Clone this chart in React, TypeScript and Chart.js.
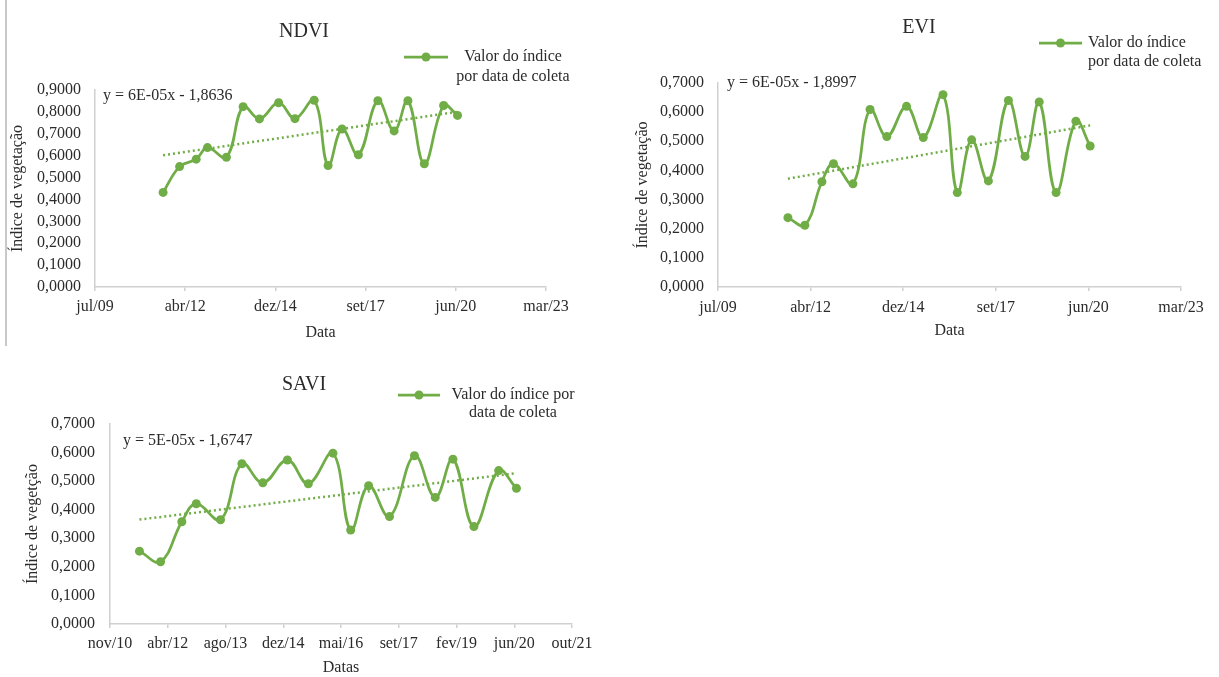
import React, { useEffect, useRef } from "react";
import { Chart, registerables } from "chart.js";

Chart.register(...registerables);

// Excel date serials of the collection dates (shared by the three indices)
const collectionDates = [
  40755, 40938, 41122, 41247, 41457, 41642, 41823, 42036, 42217, 42430,
  42584, 42739, 42920, 43136, 43316, 43469, 43651, 43865, 44019,
];

const ndviValues = [
  0.432, 0.55, 0.584, 0.637, 0.593, 0.824, 0.768, 0.842, 0.769, 0.853,
  0.555, 0.722, 0.604, 0.851, 0.713, 0.851, 0.563, 0.829, 0.784,
];
const eviValues = [
  0.238, 0.212, 0.361, 0.423, 0.354, 0.609, 0.516, 0.62, 0.513, 0.66,
  0.324, 0.505, 0.364, 0.64, 0.448, 0.635, 0.324, 0.569, 0.484,
];
const saviValues = [
  0.255, 0.218, 0.358, 0.421, 0.365, 0.561, 0.494, 0.574, 0.491, 0.598,
  0.329, 0.484, 0.376, 0.589, 0.443, 0.577, 0.341, 0.537, 0.475,
];

const mainTickValues = [40000, 41000, 42000, 43000, 44000, 45000];
const mainTickLabels = ["jul/09", "abr/12", "dez/14", "set/17", "jun/20", "mar/23"];
const saviTickValues = [40500, 41000, 41500, 42000, 42500, 43000, 43500, 44000, 44500];
const saviTickLabels = ["nov/10", "abr/12", "ago/13", "dez/14", "mai/16", "set/17", "fev/19", "jun/20", "out/21"];

const ndviEquation = "y = 6E-05x - 1,8636";
const eviEquation = "y = 6E-05x - 1,8997";
const saviEquation = "y = 5E-05x - 1,6747";

const legendTwoLines = ["Valor do índice", "por data de coleta"];
const legendSaviLines = ["Valor do índice por", "data de coleta"];

const GREEN = "#70AD47";
const TEXT = "#2b2b2b";
const AXIS = "#d0d0d0";
const FONT = '"Liberation Serif", "Times New Roman", serif';

type Panel = {
  title: string;
  values: number[];
  yMax: number;
  tickValues: number[];
  tickLabels: string[];
  equation: string;
  legendLines: string[];
  xTitle: string;
  yTitle: string;
  box: { left: number; top: number; width: number; height: number };
  pad: { left: number; right: number; top: number; bottom: number };
  yWidth: number;
  xHeight: number;
  yTickPad: number;
  xTickPad: number;
  titlePos: [number, number];
  eqPos: [number, number];
  legend: { x1: number; x2: number; y: number; textX: number; align: "left" | "center"; gap: number };
};

const panels: Panel[] = [
  {
    title: "NDVI",
    values: ndviValues,
    yMax: 0.9,
    tickValues: mainTickValues,
    tickLabels: mainTickLabels,
    equation: ndviEquation,
    legendLines: legendTwoLines,
    xTitle: "Data",
    yTitle: "Índice de vegetação",
    box: { left: 0, top: 0, width: 600, height: 345 },
    pad: { left: 8, right: 54, top: 90, bottom: 3 },
    yWidth: 87,
    xHeight: 55,
    yTickPad: 14,
    xTickPad: 6,
    titlePos: [304, 32],
    eqPos: [103, 96],
    legend: { x1: 404, x2: 448, y: 57, textX: 513, align: "center", gap: 20 },
  },
  {
    title: "EVI",
    values: eviValues,
    yMax: 0.7,
    tickValues: mainTickValues,
    tickLabels: mainTickLabels,
    equation: eviEquation,
    legendLines: legendTwoLines,
    xTitle: "Data",
    yTitle: "Índice de vegetação",
    box: { left: 610, top: 0, width: 609, height: 345 },
    pad: { left: 23, right: 38, top: 83, bottom: 5 },
    yWidth: 85,
    xHeight: 53,
    yTickPad: 14,
    xTickPad: 7,
    titlePos: [309, 28],
    eqPos: [117, 83],
    legend: { x1: 429, x2: 472, y: 43, textX: 478, align: "left", gap: 19 },
  },
  {
    title: "SAVI",
    values: saviValues,
    yMax: 0.7,
    tickValues: saviTickValues,
    tickLabels: saviTickLabels,
    equation: saviEquation,
    legendLines: legendSaviLines,
    xTitle: "Datas",
    yTitle: "Índice de vegetção",
    box: { left: 0, top: 360, width: 600, height: 317 },
    pad: { left: 23, right: 28, top: 64, bottom: 0 },
    yWidth: 87,
    xHeight: 53,
    yTickPad: 15,
    xTickPad: 6,
    titlePos: [304, 25],
    eqPos: [123, 81],
    legend: { x1: 398, x2: 440, y: 35, textX: 513, align: "center", gap: 18 },
  },
];

function linearFit(xs: number[], ys: number[]) {
  const n = xs.length;
  const mx = xs.reduce((a, b) => a + b, 0) / n;
  const my = ys.reduce((a, b) => a + b, 0) / n;
  let sxy = 0;
  let sxx = 0;
  for (let i = 0; i < n; i++) {
    sxy += (xs[i] - mx) * (ys[i] - my);
    sxx += (xs[i] - mx) * (xs[i] - mx);
  }
  const slope = sxy / sxx;
  return { slope, intercept: my - slope * mx };
}

const overlayPlugin = {
  id: "panelOverlay",
  afterDraw(chart: any, _args: any, opts: any) {
    const p: Panel = opts.panel;
    if (!p) return;
    const ctx = chart.ctx as CanvasRenderingContext2D;
    ctx.save();
    ctx.fillStyle = TEXT;
    ctx.textBaseline = "middle";
    // title
    ctx.font = `20px ${FONT}`;
    ctx.textAlign = "center";
    ctx.fillText(p.title, p.titlePos[0], p.titlePos[1]);
    // equation
    ctx.font = `16px ${FONT}`;
    ctx.textAlign = "left";
    ctx.fillText(p.equation, p.eqPos[0], p.eqPos[1]);
    // legend
    const L = p.legend;
    ctx.strokeStyle = GREEN;
    ctx.lineWidth = 2.75;
    ctx.beginPath();
    ctx.moveTo(L.x1, L.y);
    ctx.lineTo(L.x2, L.y);
    ctx.stroke();
    ctx.fillStyle = GREEN;
    ctx.beginPath();
    ctx.arc((L.x1 + L.x2) / 2, L.y, 4.5, 0, Math.PI * 2);
    ctx.fill();
    ctx.fillStyle = TEXT;
    ctx.textAlign = L.align;
    p.legendLines.forEach((line, i) => {
      ctx.fillText(line, L.textX, L.y + i * L.gap);
    });
    ctx.restore();
  },
};

function ChartPanel({ panel }: { panel: Panel }) {
  const ref = useRef<HTMLCanvasElement | null>(null);
  useEffect(() => {
    if (!ref.current) return;
    const fit = linearFit(collectionDates, panel.values);
    const x0 = collectionDates[0];
    const x1 = collectionDates[collectionDates.length - 1];
    const font = { family: FONT, size: 16 };
    const chart = new Chart(ref.current, {
      type: "line",
      data: {
        datasets: [
          {
            label: "Valor do índice por data de coleta",
            data: collectionDates.map((d, i) => ({ x: d, y: panel.values[i] })),
            borderColor: GREEN,
            backgroundColor: GREEN,
            borderWidth: 2.75,
            pointRadius: 4.5,
            pointBorderWidth: 0,
            pointBackgroundColor: GREEN,
            tension: 0.4,
            order: 1,
          },
          {
            label: "Linear",
            data: [
              { x: x0, y: fit.slope * x0 + fit.intercept },
              { x: x1, y: fit.slope * x1 + fit.intercept },
            ],
            borderColor: GREEN,
            borderWidth: 2.5,
            borderDash: [2, 3],
            pointRadius: 0,
            tension: 0,
            order: 0,
          },
        ],
      },
      options: {
        animation: false,
        responsive: false,
        maintainAspectRatio: false,
        layout: { padding: panel.pad },
        plugins: {
          legend: { display: false },
          tooltip: { enabled: false },
          title: { display: false },
          panelOverlay: { panel },
        } as any,
        scales: {
          x: {
            type: "linear",
            min: panel.tickValues[0],
            max: panel.tickValues[panel.tickValues.length - 1],
            afterBuildTicks: (s: any) => {
              s.ticks = panel.tickValues.map((v) => ({ value: v }));
            },
            afterFit: (s: any) => {
              s.height = panel.xHeight;
            },
            ticks: {
              autoSkip: false,
              maxRotation: 0,
              padding: panel.xTickPad,
              color: TEXT,
              font,
              callback: (v: any) => {
                const i = panel.tickValues.indexOf(Number(v));
                return i >= 0 ? panel.tickLabels[i] : "";
              },
            },
            grid: {
              display: true,
              drawOnChartArea: false,
              drawTicks: true,
              tickLength: 4,
              color: AXIS,
              lineWidth: 1.5,
            },
            border: { display: true, color: AXIS, width: 1.5 },
            title: {
              display: true,
              text: panel.xTitle,
              color: TEXT,
              font,
              padding: { top: 0, bottom: 0 },
            },
          },
          y: {
            min: 0,
            max: panel.yMax,
            afterFit: (s: any) => {
              s.width = panel.yWidth;
            },
            ticks: {
              stepSize: 0.1,
              autoSkip: false,
              padding: panel.yTickPad,
              color: TEXT,
              font,
              callback: (v: any) => Number(v).toFixed(4).replace(".", ","),
            },
            grid: { display: false, drawTicks: false },
            border: { display: true, color: AXIS, width: 1.5 },
            title: {
              display: true,
              text: panel.yTitle,
              color: TEXT,
              font,
              padding: { top: 0, bottom: 0 },
            },
          },
        },
      } as any,
      plugins: [overlayPlugin],
    });
    return () => chart.destroy();
  }, [panel]);
  return (
    <canvas
      ref={ref}
      width={panel.box.width}
      height={panel.box.height}
      style={{
        position: "absolute",
        left: panel.box.left,
        top: panel.box.top,
        width: panel.box.width,
        height: panel.box.height,
        display: "block",
      }}
    />
  );
}

export default function App() {
  return (
    <div
      style={{
        position: "fixed",
        left: 0,
        top: 0,
        width: 1219,
        height: 677,
        background: "#ffffff",
        overflow: "hidden",
      }}
    >
      <div
        style={{
          position: "absolute",
          left: 5,
          top: 0,
          width: 2,
          height: 346,
          background: "#c8c8c8",
        }}
      />
      {panels.map((p) => (
        <ChartPanel key={p.title} panel={p} />
      ))}
    </div>
  );
}
